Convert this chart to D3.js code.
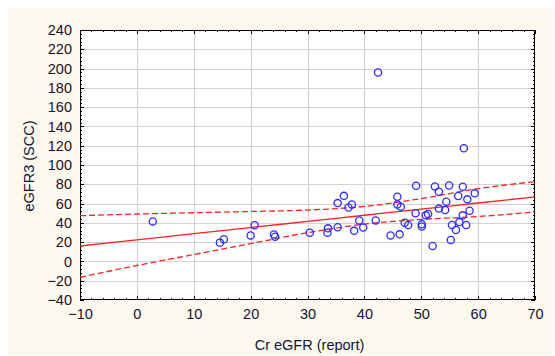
<!DOCTYPE html>
<html>
<head>
<meta charset="utf-8">
<script src="https://cdn.jsdelivr.net/npm/d3@7"></script>
<style>
  body { margin: 0; background: #fff; }
  svg { display: block; }
</style>
</head>
<body>
<div id="chart"></div>
<script>
// scatter points: Cr eGFR (report) vs eGFR3 (SCC)
const crEgfr = [2.8, 14.6, 15.3, 20.0, 20.7, 24.1, 24.3, 30.4, 33.5, 33.6,
  35.3, 35.3, 36.4, 37.2, 37.8, 38.2, 39.1, 39.8, 42.0, 42.4,
  44.6, 45.8, 45.8, 46.4, 46.2, 47.1, 47.7, 49.1, 49.0, 50.1,
  50.1, 50.8, 51.2, 52.0, 52.4, 53.1, 53.1, 54.2, 54.4, 54.9,
  55.2, 55.4, 56.1, 56.5, 56.7, 57.3, 57.3, 57.5, 57.9, 58.1,
  58.5, 59.4];
const egfr3 = [41.5, 19.5, 23.0, 27.0, 37.5, 28.0, 25.6, 29.8, 29.8, 34.3,
  35.5, 60.5, 68.0, 56.0, 59.0, 31.7, 42.5, 35.2, 42.5, 196.0,
  27.0, 67.0, 59.0, 56.8, 28.1, 40.1, 37.7, 78.5, 49.9, 38.6,
  36.3, 47.8, 49.2, 16.0, 77.8, 72.3, 54.8, 53.3, 61.9, 78.8,
  22.2, 37.7, 32.6, 67.8, 40.8, 77.5, 47.8, 117.3, 37.7, 64.4,
  52.5, 70.6];

// regression line and 95% band, read at these x positions
const fitX     = [-10, 0, 10, 20, 30, 40, 50, 60, 70];
const fitY     = [16.0, 22.4, 28.8, 35.1, 41.5, 47.9, 54.3, 60.6, 67.0];
const bandUp   = [47.4, 49.2, 50.5, 51.8, 53.3, 57.0, 65.2, 75.5, 82.7];
const bandLow  = [-16.5, -4.2, 7.1, 18.5, 29.8, 38.6, 43.6, 46.6, 51.3];

const xTicks = [-10, 0, 10, 20, 30, 40, 50, 60, 70];
const yTicks = [-40, -20, 0, 20, 40, 60, 80, 100, 120, 140, 160, 180, 200, 220, 240];

const W = 555, H = 356;
const pL = 80, pT = 30, pR = 535, pB = 300;
const textColor = "#14142e";

const x = d3.scaleLinear().domain([-10, 70]).range([pL, pR]);
const y = d3.scaleLinear().domain([-40, 240]).range([pB, pT]);

const svg = d3.select("#chart").append("svg")
  .attr("width", W)
  .attr("height", H)
  .attr("style", "font-family: 'Liberation Sans', Arial, sans-serif;");

// cream panel
svg.append("rect")
  .attr("x", 8).attr("y", 8)
  .attr("width", 545).attr("height", 347)
  .attr("fill", "#fdf8ee");

svg.append("rect")
  .attr("x", pL).attr("y", pT)
  .attr("width", pR - pL).attr("height", pB - pT)
  .attr("fill", "#fff");

// grid
const grid = svg.append("g").attr("stroke", "#d3d3d3").attr("stroke-width", 1.2);
grid.selectAll(".gx").data(xTicks.slice(1, -1)).join("line")
  .attr("x1", d => Math.round(x(d)) + 0.5).attr("x2", d => Math.round(x(d)) + 0.5)
  .attr("y1", pT).attr("y2", pB);
grid.selectAll(".gy").data(yTicks.slice(1, -1)).join("line")
  .attr("y1", d => Math.round(y(d)) + 0.5).attr("y2", d => Math.round(y(d)) + 0.5)
  .attr("x1", pL).attr("x2", pR);

// axes with inner ticks (major + minor) on all four sides
const minorX = d3.range(-10, 70.01, 2);
const minorY = d3.range(-40, 240.01, 4);

const axisBottom = d3.axisBottom(x).tickValues(xTicks).tickSize(0).tickPadding(9);
const axisLeft = d3.axisLeft(y).tickValues(yTicks).tickSize(0).tickPadding(8);

const gx = svg.append("g").attr("transform", `translate(0,${pB})`).call(axisBottom);
const gy = svg.append("g").attr("transform", `translate(${pL},0)`).call(axisLeft);
[gx, gy].forEach(g => {
  g.select(".domain").remove();
  g.selectAll("text").attr("font-size", 14.5).attr("fill", textColor)
    .attr("font-family", "'Liberation Sans', Arial, sans-serif");
});

const ticks = svg.append("g").attr("stroke", "#000").attr("stroke-width", 1);
const tickLen = isMajor => isMajor ? 4 : 2;
minorX.forEach(v => {
  const major = xTicks.includes(v);
  const px = Math.round(x(v)) + 0.5;
  ticks.append("line").attr("x1", px).attr("x2", px).attr("y1", pB).attr("y2", pB - tickLen(major));
  ticks.append("line").attr("x1", px).attr("x2", px).attr("y1", pT).attr("y2", pT + tickLen(major));
});
minorY.forEach(v => {
  const major = yTicks.includes(v);
  const py = Math.round(y(v)) + 0.5;
  ticks.append("line").attr("y1", py).attr("y2", py).attr("x1", pL).attr("x2", pL + tickLen(major));
  ticks.append("line").attr("y1", py).attr("y2", py).attr("x1", pR).attr("x2", pR - tickLen(major));
});

// frame
svg.append("rect")
  .attr("x", pL + 0.5).attr("y", pT + 0.5)
  .attr("width", pR - pL - 1).attr("height", pB - pT - 1)
  .attr("fill", "none").attr("stroke", "#000").attr("stroke-width", 1);

// clip for the lines
svg.append("clipPath").attr("id", "plot")
  .append("rect").attr("x", pL).attr("y", pT).attr("width", pR - pL).attr("height", pB - pT);

const line = d3.line().curve(d3.curveMonotoneX);
const lines = svg.append("g").attr("clip-path", "url(#plot)").attr("fill", "none").attr("stroke", "#ff2020");

lines.append("path")
  .attr("d", line(fitX.map((v, i) => [x(v), y(fitY[i])])))
  .attr("stroke-width", 1.3);
[bandUp, bandLow].forEach(b => {
  lines.append("path")
    .attr("d", line(fitX.map((v, i) => [x(v), y(b[i])])))
    .attr("stroke-width", 1.3)
    .attr("stroke-dasharray", "6,3");
});

// points
svg.append("g")
  .attr("fill", "none").attr("stroke", "#2d2dff").attr("stroke-width", 1.3)
  .selectAll("circle")
  .data(crEgfr.map((v, i) => [v, egfr3[i]]))
  .join("circle")
  .attr("cx", d => x(d[0]))
  .attr("cy", d => y(d[1]))
  .attr("r", 3.6);

// axis titles
svg.append("text")
  .attr("x", (pL + pR) / 2 + 2).attr("y", 350)
  .attr("text-anchor", "middle")
  .attr("font-size", 14.5).attr("fill", textColor)
  .text("Cr eGFR (report)");

svg.append("text")
  .attr("transform", `translate(34,${(pT + pB) / 2 + 1}) rotate(-90)`)
  .attr("text-anchor", "middle")
  .attr("font-size", 14.5).attr("fill", textColor)
  .text("eGFR3 (SCC)");
</script>
</body>
</html>
